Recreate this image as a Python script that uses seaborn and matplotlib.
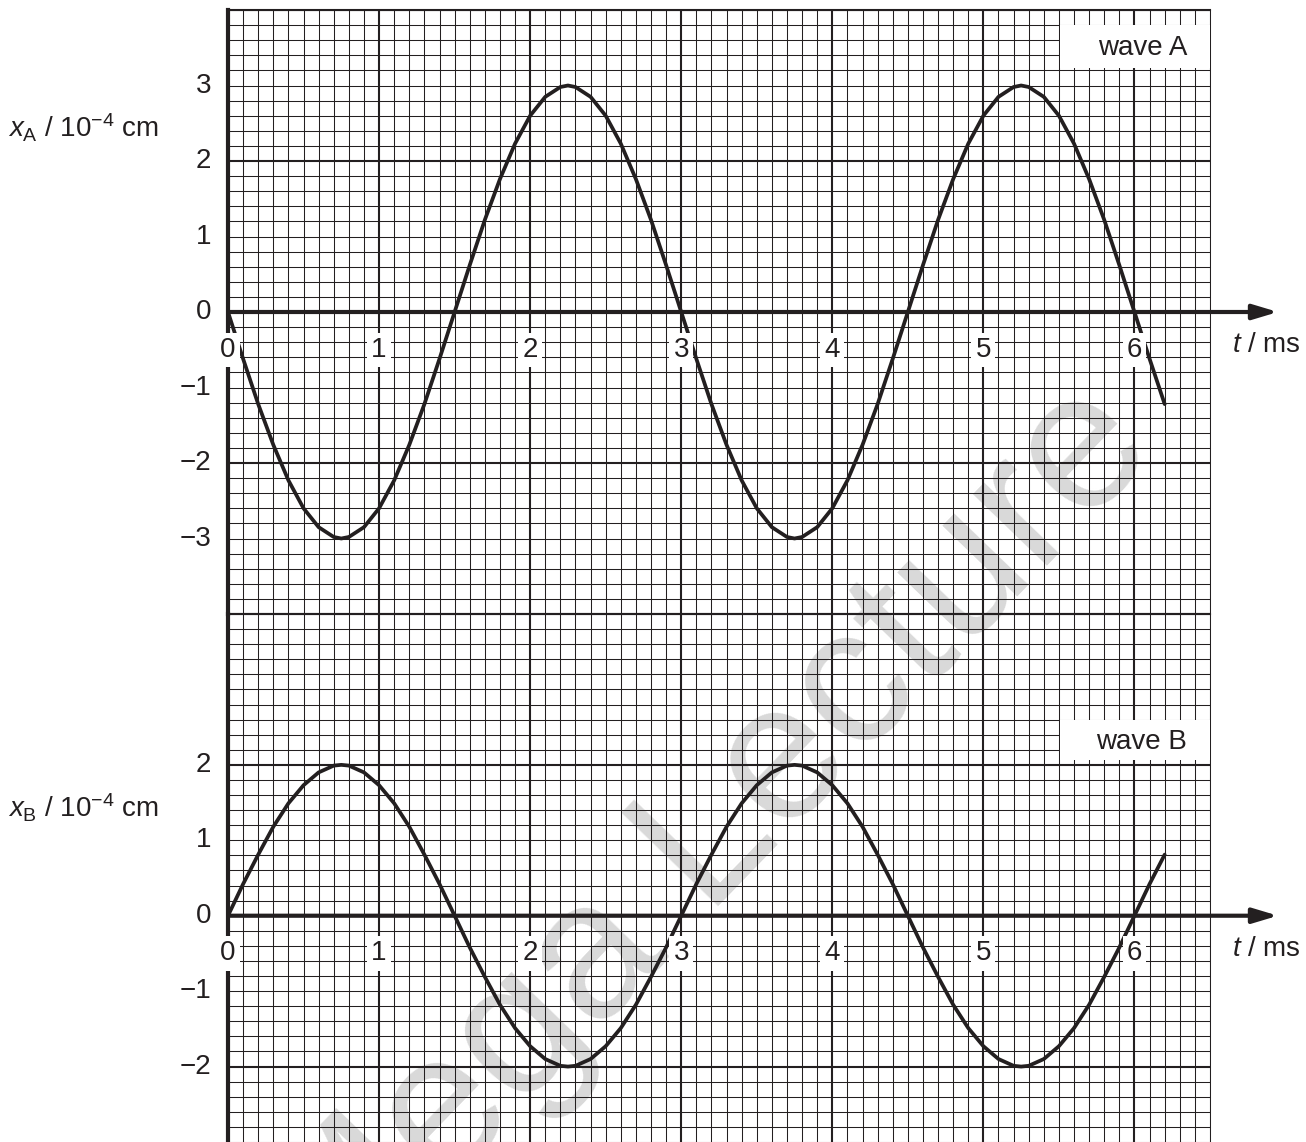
import numpy as np
import matplotlib
matplotlib.use('Agg')
import matplotlib.pyplot as plt
from matplotlib.patches import Rectangle
import seaborn as sns

# time axis (ms) and the two displacement curves (10^-4 cm)
t_ms = [0.0, 0.1, 0.2, 0.3, 0.4, 0.5, 0.6, 0.7, 0.75, 0.8, 0.9, 1.0, 1.1, 1.2, 1.3, 1.4,
        1.5, 1.6, 1.7, 1.8, 1.9, 2.0, 2.1, 2.2, 2.25, 2.3, 2.4, 2.5, 2.6, 2.7, 2.8, 2.9,
        3.0, 3.1, 3.2, 3.3, 3.4, 3.5, 3.6, 3.7, 3.75, 3.8, 3.9, 4.0, 4.1, 4.2, 4.3, 4.4,
        4.5, 4.6, 4.7, 4.8, 4.9, 5.0, 5.1, 5.2, 5.25, 5.3, 5.4, 5.5, 5.6, 5.7, 5.8, 5.9,
        6.0, 6.1, 6.2]

wave_a = [0.0, -0.62, -1.22, -1.76, -2.23, -2.6, -2.85, -2.98, -3.0, -2.98, -2.85, -2.6, -2.23, -1.76, -1.22, -0.62,
          0.0, 0.62, 1.22, 1.76, 2.23, 2.6, 2.85, 2.98, 3.0, 2.98, 2.85, 2.6, 2.23, 1.76, 1.22, 0.62,
          0.0, -0.62, -1.22, -1.76, -2.23, -2.6, -2.85, -2.98, -3.0, -2.98, -2.85, -2.6, -2.23, -1.76, -1.22, -0.62,
          0.0, 0.62, 1.22, 1.76, 2.23, 2.6, 2.85, 2.98, 3.0, 2.98, 2.85, 2.6, 2.23, 1.76, 1.22, 0.62,
          0.0, -0.62, -1.22]

wave_b = [0.0, 0.42, 0.81, 1.18, 1.49, 1.73, 1.9, 1.99, 2.0, 1.99, 1.9, 1.73, 1.49, 1.18, 0.81, 0.42,
          0.0, -0.42, -0.81, -1.18, -1.49, -1.73, -1.9, -1.99, -2.0, -1.99, -1.9, -1.73, -1.49, -1.18, -0.81, -0.42,
          0.0, 0.42, 0.81, 1.18, 1.49, 1.73, 1.9, 1.99, 2.0, 1.99, 1.9, 1.73, 1.49, 1.18, 0.81, 0.42,
          0.0, -0.42, -0.81, -1.18, -1.49, -1.73, -1.9, -1.99, -2.0, -1.99, -1.9, -1.73, -1.49, -1.18, -0.81, -0.42,
          0.0, 0.42, 0.81]

t_labels = [0, 1, 2, 3, 4, 5, 6]
ya_labels = [3, 2, 1, 0, -1, -2, -3]
yb_labels = [2, 1, 0, -1, -2]

sns.set_style('white')
plt.rcParams['font.family'] = ['Liberation Sans', 'DejaVu Sans']
plt.rcParams['mathtext.fontset'] = 'custom'
plt.rcParams['mathtext.rm'] = 'Liberation Sans'
plt.rcParams['mathtext.it'] = 'Liberation Sans:italic'
plt.rcParams['mathtext.bf'] = 'Liberation Sans:bold'

ink = '#231f20'
W, H = 1306, 1142
fig = plt.figure(figsize=(W / 100, H / 100), dpi=100, facecolor='white')

ax_a = fig.add_axes([228 / W, 1 - 614 / H, 982 / W, 604 / H])
ax_b = fig.add_axes([228 / W, 0, 982 / W, 528 / H])

# watermark, underneath the graph paper
fig.text(709 / W, 1 - 843 / H, 'Mega Lecture', fontsize=140, rotation=46,
         color='#d9d9d9', ha='center', va='center', rotation_mode='anchor', zorder=-1)


def graph_paper(ax, ylo, yhi, major_y):
    ax.set_facecolor('none')
    ax.set_xlim(0, 6.5)
    ax.set_ylim(ylo, yhi)
    ax.set_xticks(t_labels)
    ax.set_xticks(np.arange(0, 6.51, 0.1), minor=True)
    ax.set_yticks(major_y)
    ax.set_yticks(np.arange(ylo, yhi + 0.01, 0.2), minor=True)
    ax.grid(which='major', color=ink, lw=1.5)
    ax.grid(which='minor', color=ink, lw=0.75)
    ax.tick_params(which='both', length=0, labelbottom=False, labelleft=False)
    for side in ['left', 'right', 'top', 'bottom']:
        ax.spines[side].set_color(ink)
    ax.spines['left'].set_linewidth(3)
    ax.spines['right'].set_linewidth(0.75)


def time_axis(ax, y_lab):
    # t axis with arrow
    ax.annotate('', xy=(6.95, 0), xytext=(0, 0), annotation_clip=False,
                arrowprops=dict(arrowstyle='-|>,head_length=1.5,head_width=0.45',
                                lw=3, color=ink, shrinkA=0, shrinkB=0), zorder=6)
    for v in t_labels:
        ax.text(v, -0.5, str(v), fontsize=20, ha='center', va='center', color=ink,
                zorder=7, bbox=dict(fc='white', ec='none', pad=3))
    for v in y_lab:
        ax.text(-0.113, v, str(v).replace('-', '\u2212'), fontsize=20, ha='right',
                va='center', color=ink)


graph_paper(ax_a, -4, 4, [-4, -2, 0, 2, 4])
ax_a.spines['top'].set_linewidth(1.5)
ax_a.spines['bottom'].set_linewidth(1.5)
graph_paper(ax_b, -3, 4, [-2, 0, 2, 4])
ax_b.spines['top'].set_visible(False)
ax_b.spines['bottom'].set_visible(False)

sns.lineplot(x=t_ms, y=wave_a, ax=ax_a, color=ink, linewidth=2.7, zorder=5, legend=False)
sns.lineplot(x=t_ms, y=wave_b, ax=ax_b, color=ink, linewidth=2.7, zorder=5, legend=False)
ax_a.set_xlabel('')
ax_b.set_xlabel('')

time_axis(ax_a, ya_labels)
time_axis(ax_b, yb_labels)

# wave name boxes
ax_a.add_patch(Rectangle((0.847, 0.904), 0.153, 0.071, transform=ax_a.transAxes,
                         fc='white', ec='none', zorder=6))
ax_a.text(0.977, 0.937, 'wave A', transform=ax_a.transAxes, fontsize=20,
          ha='right', va='center', color=ink, zorder=7)
ax_b.add_patch(Rectangle((0.847, 0.723), 0.153, 0.076, transform=ax_b.transAxes,
                         fc='white', ec='none', zorder=6))
ax_b.text(0.977, 0.758, 'wave B', transform=ax_b.transAxes, fontsize=20,
          ha='right', va='center', color=ink, zorder=7)

# axis titles
fig.text(8 / W, 1 - 137 / H, r'$x_{\mathrm{A}}$ / 10$^{-4}$ cm', fontsize=20,
         ha='left', va='baseline', color=ink)
fig.text(8 / W, 1 - 817 / H, r'$x_{\mathrm{B}}$ / 10$^{-4}$ cm', fontsize=20,
         ha='left', va='baseline', color=ink)
fig.text(1232 / W, 1 - 352 / H, r'$t$ / ms', fontsize=20, ha='left', va='baseline', color=ink)
fig.text(1232 / W, 1 - 956 / H, r'$t$ / ms', fontsize=20, ha='left', va='baseline', color=ink)

fig.savefig('out.png', dpi=100, facecolor='white')
